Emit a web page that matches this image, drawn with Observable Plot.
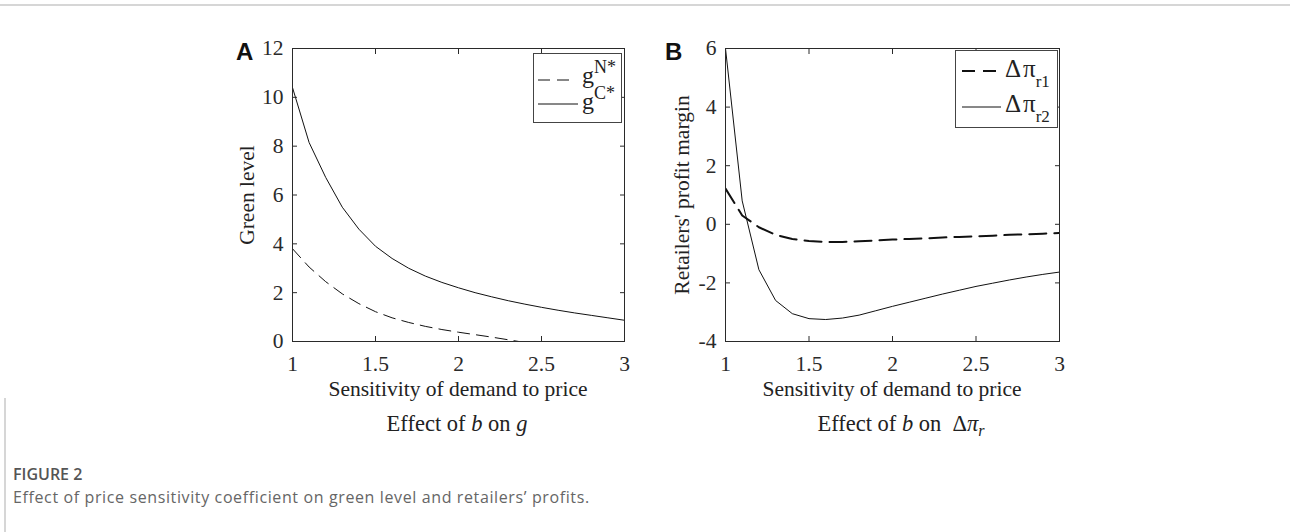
<!DOCTYPE html>
<html>
<head>
<meta charset="utf-8">
<script src="https://cdn.jsdelivr.net/npm/d3@7"></script>
<script src="https://cdn.jsdelivr.net/npm/@observablehq/plot@0.6"></script>
<style>
  body { margin: 0; background: #fff; }
  #page { position: relative; width: 1290px; height: 532px; overflow: hidden; background: #fff; }
  .panel { position: absolute; top: 0; }
  #overlay { position: absolute; left: 0; top: 0; }
  .cap { position: absolute; white-space: nowrap; font-family: "Open Sans", "Lato", sans-serif; }
</style>
</head>
<body>
<div id="page"></div>
<script>
// Price sensitivity b (horizontal axis of both panels)
const b = [1, 1.1, 1.2, 1.3, 1.4, 1.5, 1.6, 1.7, 1.8, 1.9, 2, 2.1, 2.2, 2.3, 2.4, 2.5, 2.6, 2.7, 2.8, 2.9, 3];

// Panel A: green level, decentralised (N) and centralised (C)
const bN = [1, 1.1, 1.2, 1.3, 1.4, 1.5, 1.6, 1.7, 1.8, 1.9, 2, 2.1, 2.2, 2.3, 2.4];
const gN = [3.8, 3.05, 2.45, 1.95, 1.55, 1.22, 0.97, 0.78, 0.62, 0.49, 0.38, 0.28, 0.18, 0.07, -0.04];
const gC = [10.4, 8.15, 6.72, 5.5, 4.6, 3.9, 3.4, 3.0, 2.68, 2.42, 2.2, 2.0, 1.83, 1.67, 1.53, 1.4, 1.28, 1.17, 1.07, 0.97, 0.87];

// Panel B: retailers' profit margin differences
const dPr1 = [1.22, 0.3, -0.1, -0.36, -0.5, -0.57, -0.6, -0.6, -0.58, -0.55, -0.52, -0.5, -0.48, -0.45, -0.43, -0.41, -0.39, -0.36, -0.34, -0.32, -0.3];
const dPr2 = [6.0, 0.8, -1.55, -2.6, -3.05, -3.22, -3.25, -3.2, -3.1, -2.95, -2.8, -2.66, -2.52, -2.38, -2.25, -2.12, -2.01, -1.9, -1.8, -1.71, -1.63];

// Tick values
const xTicks = [1, 1.5, 2, 2.5, 3];
const yTicksA = [0, 2, 4, 6, 8, 10, 12];
const yTicksB = [-4, -2, 0, 2, 4, 6];

const rows = (xs, ys) => xs.map((x, i) => ({b: x, v: ys[i]}));

const axisColor = "#2a2a2a";
const lineColor = "#111";
const tickFont = 21.5;

function panel({left, marginLeft, marginRight, yDomain, yTicks, marks}) {
  const svg = Plot.plot({
    width: 450,
    height: 410,
    marginLeft,
    marginRight,
    marginTop: 48,
    marginBottom: 69,
    x: {domain: [1, 3]},
    y: {domain: yDomain},
    style: {fontFamily: "'Liberation Serif', 'Times New Roman', serif", fontSize: tickFont + "px", color: axisColor, background: "transparent", overflow: "visible"},
    marks: [
      ...marks,
      Plot.axisX({anchor: "bottom", ticks: xTicks, tickSize: -5, tickPadding: 19, fontSize: tickFont, tickFormat: d => String(d), label: null}),
      Plot.axisX({anchor: "top", ticks: xTicks, tickSize: -5, tickFormat: () => "", label: null}),
      Plot.axisY({anchor: "left", ticks: yTicks, tickSize: -5, tickPadding: 14, fontSize: tickFont, tickFormat: d => String(d), label: null}),
      Plot.axisY({anchor: "right", ticks: yTicks, tickSize: -5, tickFormat: () => "", label: null}),
      Plot.frame({stroke: axisColor, strokeWidth: 1})
    ]
  });
  svg.classList.add("panel");
  svg.style.left = left + "px";
  return svg;
}

const page = document.getElementById("page");

// Panel A: effect of b on g
page.appendChild(panel({
  left: 190, marginLeft: 102, marginRight: 16,
  yDomain: [0, 12], yTicks: yTicksA,
  marks: [
    Plot.lineY(rows(bN, gN), {x: "b", y: "v", stroke: lineColor, strokeWidth: 1, strokeDasharray: "12,7", clip: true}),
    Plot.lineY(rows(b, gC), {x: "b", y: "v", stroke: lineColor, strokeWidth: 1, clip: true})
  ]
}));

// Panel B: effect of b on the retailers' profit differences
page.appendChild(panel({
  left: 620, marginLeft: 105, marginRight: 11,
  yDomain: [-4, 6], yTicks: yTicksB,
  marks: [
    Plot.lineY(rows(b, dPr1), {x: "b", y: "v", stroke: lineColor, strokeWidth: 2, strokeDasharray: "17,8", clip: true}),
    Plot.lineY(rows(b, dPr2), {x: "b", y: "v", stroke: lineColor, strokeWidth: 1, clip: true})
  ]
}));

// Titles, legends and panel letters
const NS = "http://www.w3.org/2000/svg";
const overlay = document.createElementNS(NS, "svg");
overlay.setAttribute("id", "overlay");
overlay.setAttribute("width", 1290);
overlay.setAttribute("height", 532);
overlay.innerHTML = `
  <line x1="0" x2="1290" y1="5" y2="5" stroke="#d6d6d6" stroke-width="2"/>
  <line x1="5" x2="5" y1="398" y2="532" stroke="#d6d6d6" stroke-width="2"/>

  <g font-family="'Liberation Sans', Arial, sans-serif" font-weight="bold" font-size="24" fill="#111">
    <text x="236" y="60">A</text>
    <text x="665" y="60">B</text>
  </g>

  <g font-family="'Liberation Serif', 'Times New Roman', serif" font-size="21.5" fill="#222">
    <text transform="translate(254,195) rotate(-90)" text-anchor="middle">Green level</text>
    <text transform="translate(689,195) rotate(-90)" text-anchor="middle">Retailers' profit margin</text>
    <text x="458" y="396" text-anchor="middle">Sensitivity of demand to price</text>
    <text x="892" y="396" text-anchor="middle">Sensitivity of demand to price</text>
  </g>
  <g font-family="'Liberation Serif', 'Times New Roman', serif" font-size="22.5" fill="#222">
    <text x="457" y="431" text-anchor="middle">Effect of <tspan font-style="italic">b</tspan> on <tspan font-style="italic">g</tspan></text>
    <text x="901" y="431" text-anchor="middle" xml:space="preserve">Effect of <tspan font-style="italic">b</tspan> on  Δ<tspan font-style="italic">π</tspan><tspan font-style="italic" font-size="16" dy="5">r</tspan></text>
  </g>

  <g font-family="'Liberation Serif', 'Times New Roman', serif" fill="#222">
    <rect x="533.5" y="53.5" width="88" height="69" fill="#fff" stroke="#444" stroke-width="1"/>
    <line x1="538" x2="574" y1="80" y2="80" stroke="#111" stroke-width="1" stroke-dasharray="12,7"/>
    <line x1="538" x2="578" y1="104" y2="104" stroke="#111" stroke-width="1"/>
    <text x="582" y="83" font-size="24">g<tspan font-size="18" dy="-10">N*</tspan></text>
    <text x="582" y="109" font-size="24">g<tspan font-size="18" dy="-10">C*</tspan></text>

    <rect x="955.5" y="50.5" width="102" height="77" fill="#fff" stroke="#444" stroke-width="1"/>
    <line x1="962" x2="998" y1="71" y2="71" stroke="#111" stroke-width="2" stroke-dasharray="13,8"/>
    <line x1="962" x2="1001" y1="107" y2="107" stroke="#111" stroke-width="1"/>
    <text x="1005" y="77" font-size="25">Δ<tspan dx="2">π</tspan><tspan font-size="17" dy="10">r1</tspan></text>
    <text x="1005" y="112" font-size="25">Δ<tspan dx="2">π</tspan><tspan font-size="17" dy="10">r2</tspan></text>
  </g>
`;
page.appendChild(overlay);

// Figure caption
const fig = document.createElement("div");
fig.className = "cap";
fig.style.left = "13px";
fig.style.top = "463px";
fig.style.fontSize = "16px";
fig.style.fontWeight = "600";
fig.style.color = "#555";
fig.textContent = "FIGURE 2";
page.appendChild(fig);

const cap = document.createElement("div");
cap.className = "cap";
cap.style.left = "13px";
cap.style.top = "486px";
cap.style.fontSize = "16px";
cap.style.letterSpacing = "0.62px";
cap.style.color = "#666";
cap.textContent = "Effect of price sensitivity coefficient on green level and retailers’ profits.";
page.appendChild(cap);
</script>
</body>
</html>
